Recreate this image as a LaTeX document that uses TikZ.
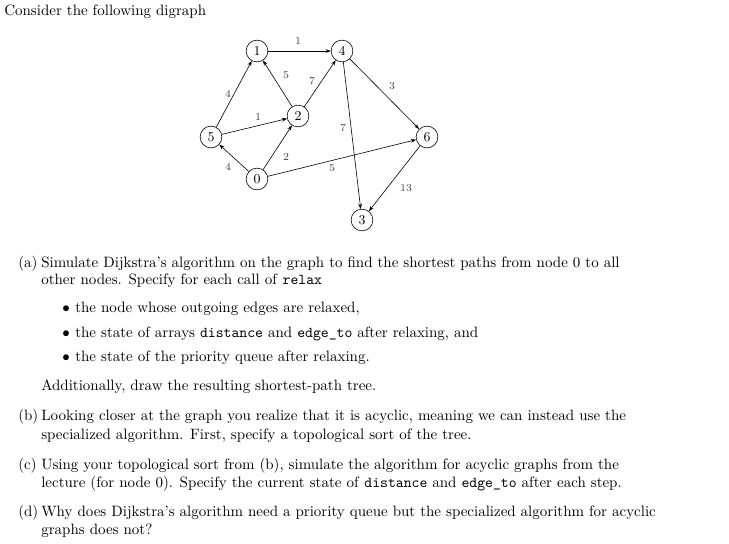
\documentclass[tikz,border=0pt]{standalone}
\usetikzlibrary{arrows.meta}
\begin{document}
\begin{tikzpicture}[x=0.6667pt,y=-0.6667pt,
  vtx/.style={draw,circle,minimum size=14.5pt,inner sep=0pt,font=\small},
  edge/.style={-{Stealth[length=3.5pt,width=2.5pt]},line width=0.4pt},
  wt/.style={font=\scriptsize,text=black!75},
  txt/.style={anchor=base west,inner sep=0pt}]
\useasboundingbox (0,0) rectangle (729,544);
\node[vtx] (n1) at (257,51) {1};
\node[vtx] (n4) at (342,51) {4};
\node[vtx] (n2) at (298,116) {2};
\node[vtx] (n5) at (211,137) {5};
\node[vtx] (n6) at (427,137) {6};
\node[vtx] (n0) at (257,179) {0};
\node[vtx] (n3) at (362,220) {3};
\draw[edge] (n1) -- (n4);
\draw[edge] (n2) -- (n1);
\draw[edge] (n2) -- (n4);
\draw[edge] (n5) -- (n1);
\draw[edge] (n5) -- (n2);
\draw[edge] (n0) -- (n5);
\draw[edge] (n0) -- (n2);
\draw[edge] (n0) -- (n6);
\draw[edge] (n4) -- (n6);
\draw[edge] (n4) -- (n3);
\draw[edge] (n6) -- (n3);
\node[wt] (w14) at (298,41) {1};
\node[wt] (w21) at (286,75) {5};
\node[wt] (w24) at (312,81) {7};
\node[wt] (w51) at (228,94) {4};
\node[wt] (w52) at (258,117) {1};
\node[wt] (w46) at (392,86) {3};
\node[wt] (w43) at (343,128) {7};
\node[wt] (w02) at (286,157) {2};
\node[wt] (w05) at (228,167) {4};
\node[wt] (w06) at (332,168) {5};
\node[wt] (w63) at (406,188) {13};
\node[txt] (t0) at (4,16) {Consider the following digraph};
\node[txt] (la) at (18,267) {(a)};
\node[txt] (ta1) at (41,267) {Simulate Dijkstra's algorithm on the graph to find the shortest paths from node 0 to all};
\node[txt] (ta2) at (41,284) {other nodes. Specify for each call of \texttt{relax}};
\node[txt] (b1) at (62,312) {$\bullet$};
\node[txt] (tb1) at (75,312) {the node whose outgoing edges are relaxed,};
\node[txt] (b2) at (62,337) {$\bullet$};
\node[txt] (tb2) at (75,337) {the state of arrays \texttt{distance} and \texttt{edge\_to} after relaxing, and};
\node[txt] (b3) at (62,361) {$\bullet$};
\node[txt] (tb3) at (75,361) {the state of the priority queue after relaxing.};
\node[txt] (ta3) at (41,390) {Additionally, draw the resulting shortest-path tree.};
\node[txt] (lb) at (18,420) {(b)};
\node[txt] (tbb1) at (41,420) {Looking closer at the graph you realize that it is acyclic, meaning we can instead use the};
\node[txt] (tbb2) at (41,439) {specialized algorithm. First, specify a topological sort of the tree.};
\node[txt] (lc) at (18,469) {(c)};
\node[txt] (tc1) at (41,469) {Using your topological sort from (b), simulate the algorithm for acyclic graphs from the};
\node[txt] (tc2) at (41,487) {lecture (for node 0). Specify the current state of \texttt{distance} and \texttt{edge\_to} after each step.};
\node[txt] (ld) at (18,516) {(d)};
\node[txt] (td1) at (41,516) {Why does Dijkstra's algorithm need a priority queue but the specialized algorithm for acyclic};
\node[txt] (td2) at (41,534) {graphs does not?};
\end{tikzpicture}
\end{document}
